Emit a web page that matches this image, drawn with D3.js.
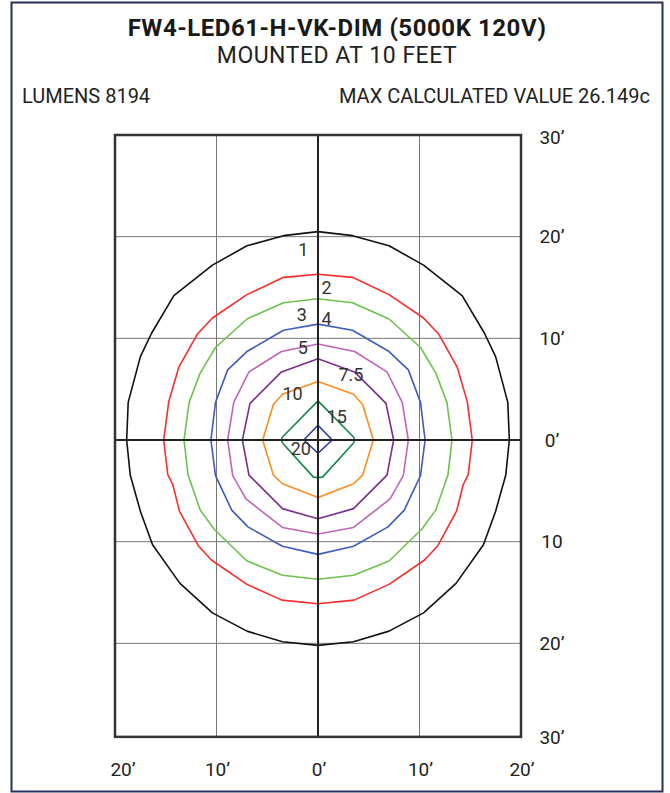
<!DOCTYPE html>
<html>
<head>
<meta charset="utf-8">
<script src="https://cdn.jsdelivr.net/npm/d3@7"></script>
<style>
  html, body { margin: 0; padding: 0; background: #fff; }
  text { font-family: Roboto, "Noto Sans", sans-serif; fill: #222; }
</style>
</head>
<body>
<div id="chart"></div>
<script>
// iso-footcandle contours, right half only (x >= 0, feet), top to bottom;
// the plot is symmetric about the vertical axis so the left half is mirrored
var levels = ["1", "2", "3", "4", "5", "7.5", "10", "15", "20"];
var colors = ["#111111", "#ff2a2a", "#6cc24a", "#3f5cbf", "#c163b9", "#7b2d8c", "#ff8c1f", "#14874a", "#2a35a3"];

var c1  = [[0,20.5],[3.4,20.1],[7.0,19.1],[10.4,17.2],[14.2,14.2],[16.4,10.5],[17.5,8.2],[18.7,3.7],[18.85,0],
           [18.5,-3.45],[17.5,-7.0],[16.3,-10.3],[13.6,-14.1],[10.4,-17.0],[7.0,-18.8],[3.5,-19.85],[0,-20.2]];
var c2  = [[0,16.3],[3.4,16.0],[7.0,14.3],[10.4,12.0],[11.9,10.4],[13.7,7.2],[14.7,3.8],[15.2,0],
           [14.8,-3.4],[14.3,-4.4],[13.65,-7.0],[11.8,-10.4],[10.5,-11.8],[7.0,-14.2],[3.55,-15.75],[0,-16.1]];
var c3  = [[0,13.9],[3.4,13.5],[7.0,11.9],[10.1,9.1],[11.6,6.6],[12.7,3.7],[13.2,0],
           [12.8,-3.45],[11.6,-6.9],[10.2,-8.8],[7.0,-11.9],[3.5,-13.3],[0,-13.7]];
var c4  = [[0,11.4],[3.4,10.8],[7.0,8.7],[8.9,6.9],[10.1,3.7],[10.55,0],
           [10.1,-3.5],[8.5,-6.9],[6.9,-8.55],[3.5,-10.45],[0,-11.25]];
var c5  = [[0,9.45],[3.6,8.7],[6.8,6.7],[8.3,3.7],[8.9,0],[8.4,-3.5],[7.1,-5.8],[3.5,-8.6],[0,-9.25]];
var c75 = [[0,8.0],[3.6,6.7],[6.7,3.6],[7.45,0],[6.8,-3.45],[3.5,-6.75],[0,-7.75]];
var c10 = [[0,5.75],[3.5,4.5],[4.4,3.5],[5.45,0],[4.4,-3.45],[3.5,-4.3],[0,-5.66]];
var c15 = [[0,3.85],[3.5,0.3],[3.6,0],[3.5,-0.3],[0.45,-3.65],[0,-3.7]];
var c20 = [[0,1.45],[1.4,0],[0,-1.3]];
var halves = [c1, c2, c3, c4, c5, c75, c10, c15, c20];

// contour label anchors (feet)
var labelPos = [[-1.45,18.7],[0.85,15.0],[-1.6,12.3],[0.85,12.0],[-1.5,9.05],[3.25,6.4],[-2.5,4.6],[1.85,2.3],[-1.7,-0.8]];

var xTicks = [-20, -10, 0, 10, 20];
var xTickLabels = ["20\u2019", "10\u2019", "0\u2019", "10\u2019", "20\u2019"];
var yTicks = [30, 20, 10, 0, -10, -20, -30];
var yTickLabels = ["30\u2019", "20\u2019", "10\u2019", "0\u2019", "10", "20\u2019", "30\u2019"];

var title = "FW4-LED61-H-VK-DIM (5000K 120V)";
var subtitle = "MOUNTED AT 10 FEET";
var lumens = "LUMENS 8194";
var maxValue = "MAX CALCULATED VALUE 26.149c";

var W = 670, H = 793;
var svg = d3.select("#chart").append("svg").attr("width", W).attr("height", H);

svg.append("rect")
  .attr("x", 11.5).attr("y", 2.5).attr("width", 651).attr("height", 789)
  .attr("fill", "none").attr("stroke", "#27325a").attr("stroke-width", 2);

svg.append("text").attr("x", 337).attr("y", 36).attr("text-anchor", "middle")
  .style("font-size", "24px").style("font-weight", "bold").style("letter-spacing", "0.55px")
  .style("fill", "#1a1a1a").text(title);
svg.append("text").attr("x", 337).attr("y", 63).attr("text-anchor", "middle")
  .style("font-size", "23px").style("letter-spacing", "0.5px").text(subtitle);
svg.append("text").attr("x", 22).attr("y", 103).style("font-size", "20px").text(lumens);
svg.append("text").attr("x", 650).attr("y", 103).attr("text-anchor", "end").style("font-size", "20px").text(maxValue);

var x = d3.scaleLinear().domain([-20, 20]).range([115, 521]);
var y = d3.scaleLinear().domain([30, -30]).range([135, 745]);
var yBottom = -29.2;

var plot = svg.append("g");

// grid
plot.selectAll(".vgrid").data(xTicks.filter(function(d) { return d != 0 && Math.abs(d) < 20; }))
  .enter().append("line").attr("class", "vgrid")
  .attr("x1", function(d) { return x(d); }).attr("x2", function(d) { return x(d); })
  .attr("y1", y(30)).attr("y2", y(yBottom))
  .attr("stroke", "#777").attr("stroke-width", 1);
plot.selectAll(".hgrid").data(yTicks.filter(function(d) { return d != 0 && Math.abs(d) < 30; }))
  .enter().append("line").attr("class", "hgrid")
  .attr("y1", function(d) { return y(d); }).attr("y2", function(d) { return y(d); })
  .attr("x1", x(-20)).attr("x2", x(20))
  .attr("stroke", "#777").attr("stroke-width", 1);

// contours
var line = d3.line().x(function(d) { return x(d[0]); }).y(function(d) { return y(d[1]); }).curve(d3.curveLinearClosed);
function fullRing(half) {
  var left = half.slice(1, half.length - 1).reverse().map(function(p) { return [-p[0], p[1]]; });
  return half.concat(left);
}
plot.selectAll(".contour").data(halves).enter().append("path").attr("class", "contour")
  .attr("d", function(d) { return line(fullRing(d)); })
  .attr("fill", "none")
  .attr("stroke", function(d, i) { return colors[i]; })
  .attr("stroke-width", 1.6)
  .attr("stroke-linejoin", "round");

// center axes
plot.append("line").attr("x1", x(0)).attr("x2", x(0)).attr("y1", y(30)).attr("y2", y(yBottom))
  .attr("stroke", "#222").attr("stroke-width", 2);
plot.append("line").attr("x1", x(-20)).attr("x2", x(20)).attr("y1", y(0)).attr("y2", y(0))
  .attr("stroke", "#222").attr("stroke-width", 2);

// frame
plot.append("rect").attr("x", x(-20)).attr("y", y(30))
  .attr("width", x(20) - x(-20)).attr("height", y(yBottom) - y(30))
  .attr("fill", "none").attr("stroke", "#333").attr("stroke-width", 2.5);

// contour labels
plot.selectAll(".clabel").data(levels).enter().append("text").attr("class", "clabel")
  .attr("x", function(d, i) { return x(labelPos[i][0]); })
  .attr("y", function(d, i) { return y(labelPos[i][1]); })
  .attr("text-anchor", "middle").attr("dominant-baseline", "central")
  .style("font-size", "18px").style("fill", "#333")
  .text(function(d) { return d; });

// axis tick labels
svg.selectAll(".xlab").data(xTicks).enter().append("text").attr("class", "xlab")
  .attr("x", function(d) { return x(d) + (d == -20 ? 8 : 1); })
  .attr("y", 776).attr("text-anchor", "middle").style("font-size", "19px")
  .text(function(d, i) { return xTickLabels[i]; });
svg.selectAll(".ylab").data(yTicks).enter().append("text").attr("class", "ylab")
  .attr("x", 552)
  .attr("y", function(d) { return Math.min(Math.max(y(d), 137), y(yBottom) + 1); })
  .attr("text-anchor", "middle").attr("dominant-baseline", "central").style("font-size", "19px")
  .text(function(d, i) { return yTickLabels[i]; });
</script>
</body>
</html>
